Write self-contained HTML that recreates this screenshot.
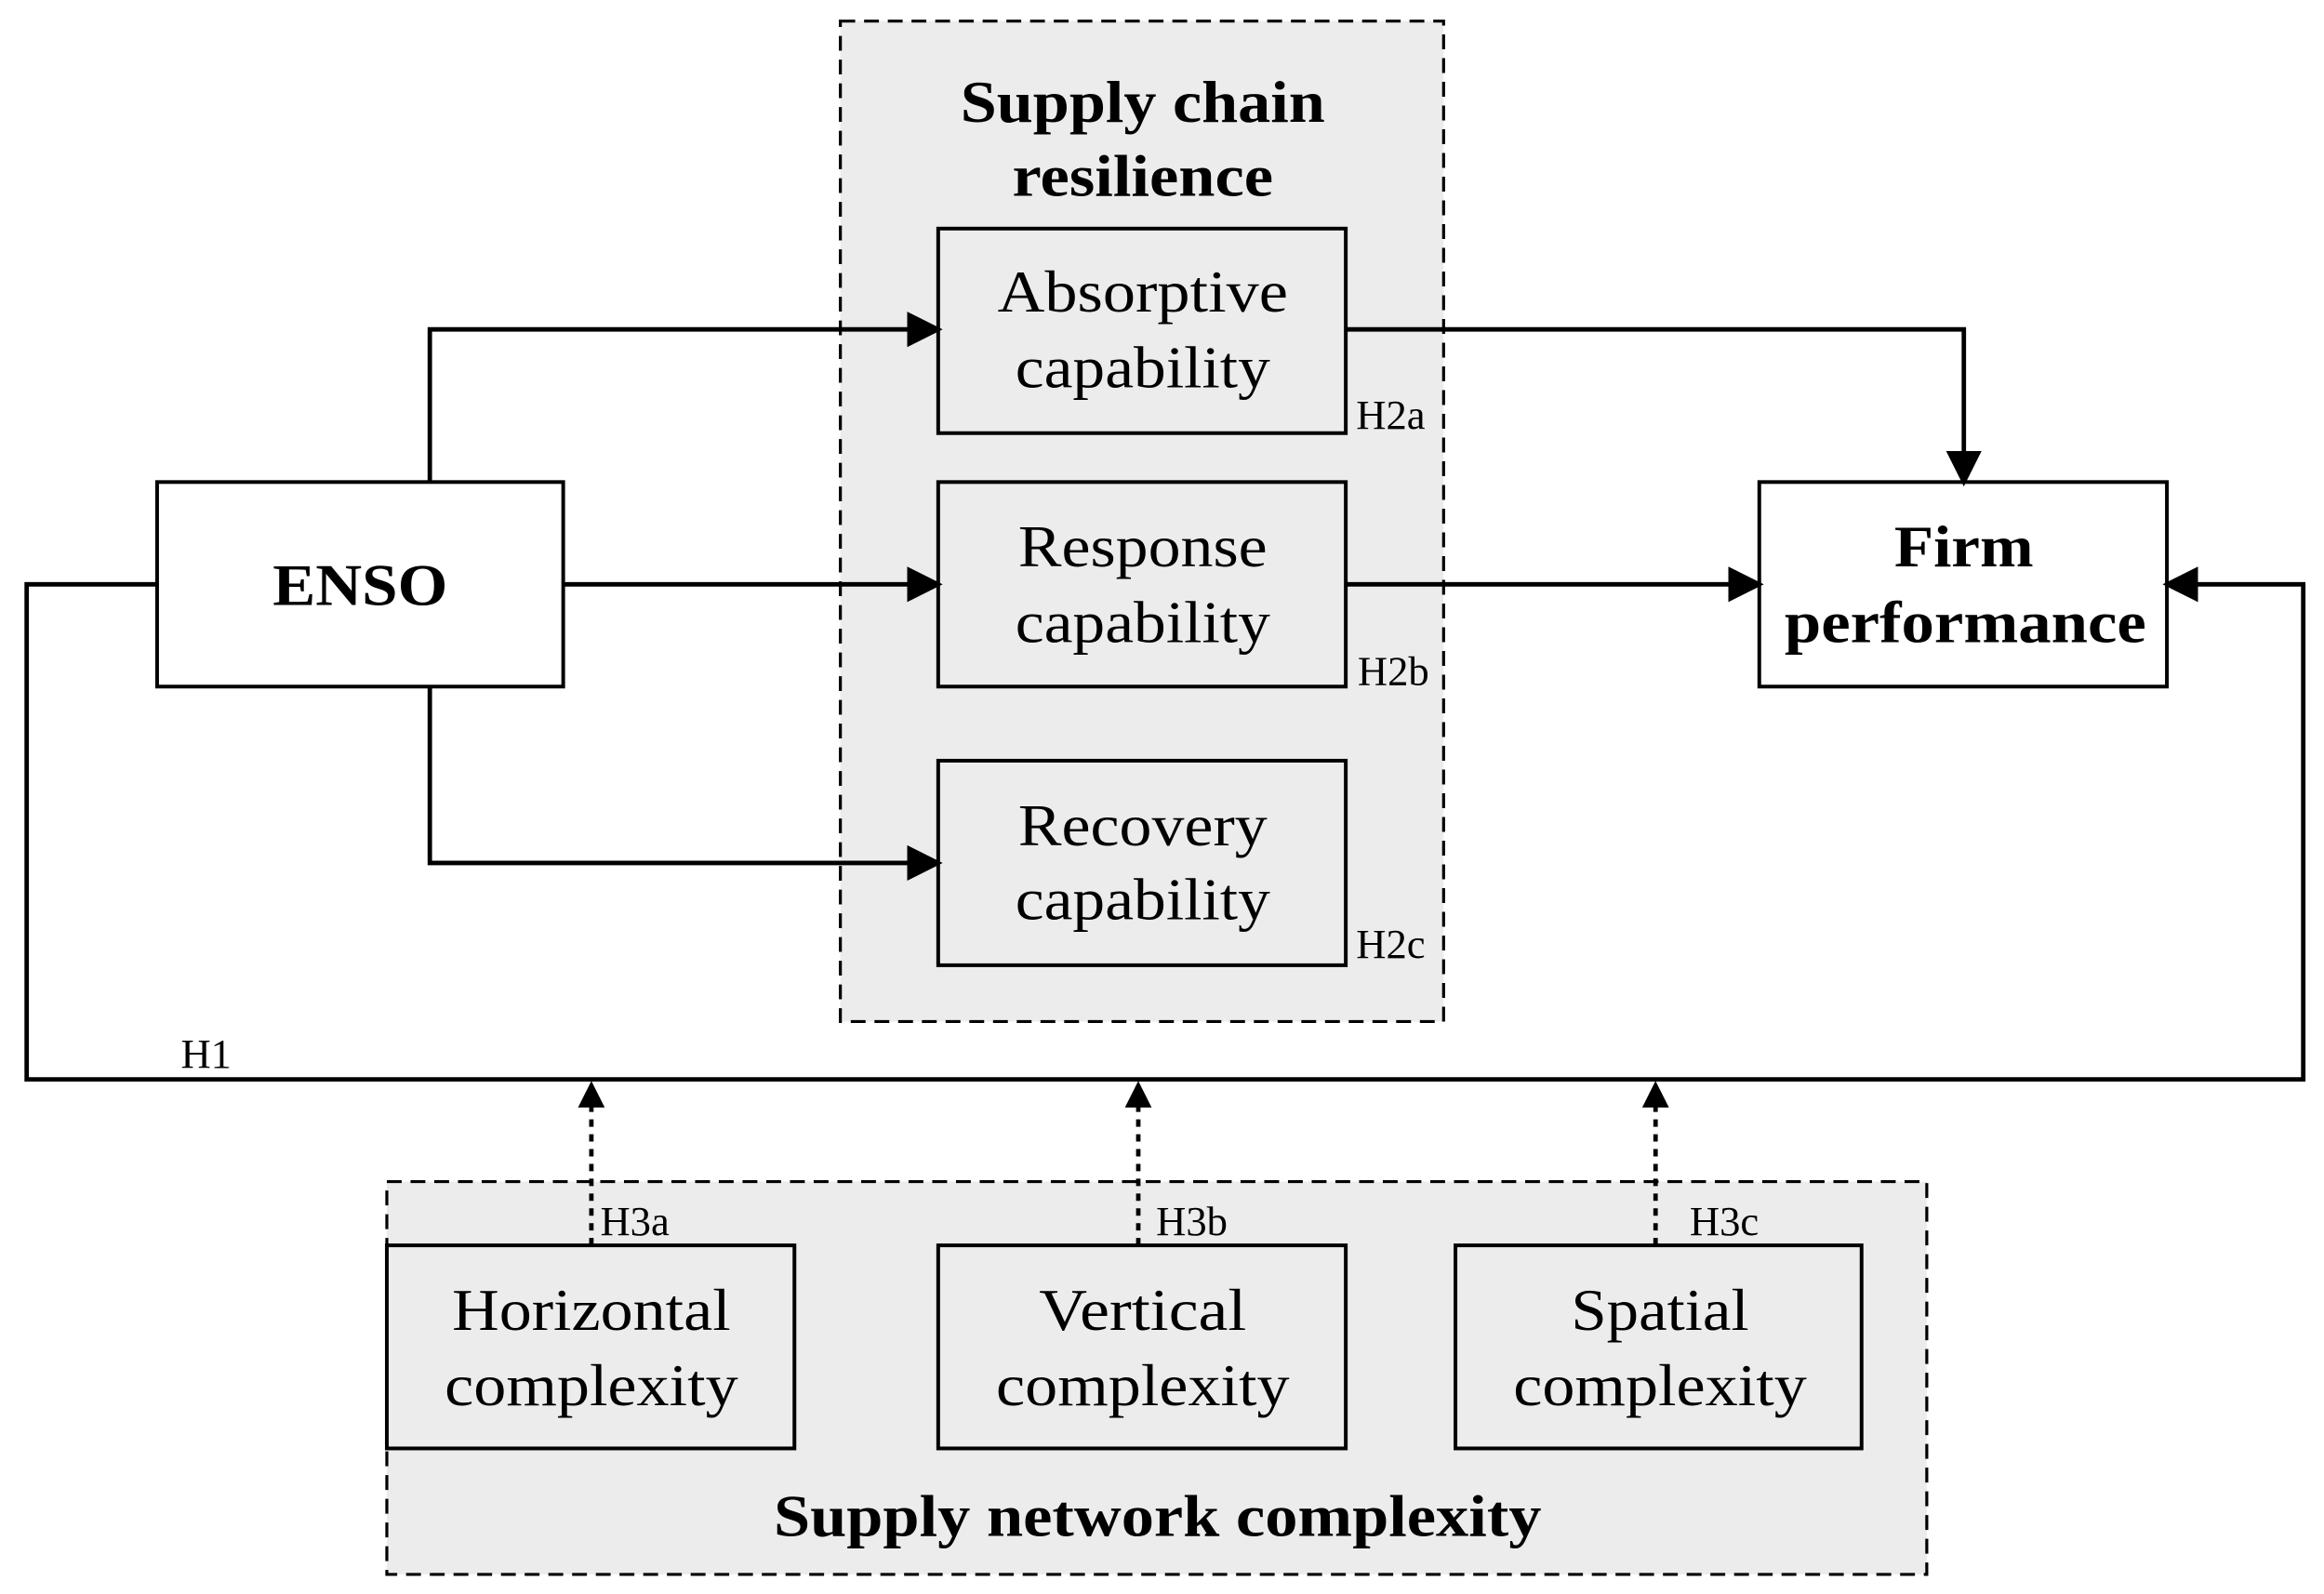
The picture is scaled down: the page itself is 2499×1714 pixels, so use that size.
<!DOCTYPE html>
<html><head><meta charset="utf-8"><style>
html,body{margin:0;padding:0;background:#fff;}
svg{display:block;}
text{font-family:"Liberation Serif",serif;fill:#000;}
</style></head><body>
<svg width="2499" height="1714" viewBox="0 0 1568 1075" xmlns="http://www.w3.org/2000/svg">
<defs>
<marker id="a" markerWidth="8" markerHeight="8" refX="7" refY="4" orient="auto" markerUnits="strokeWidth">
<path d="M0,0 L8,4 L0,8 Z" fill="#000"/></marker>
<marker id="d" markerWidth="6" markerHeight="6" refX="5" refY="3" orient="auto" markerUnits="strokeWidth">
<path d="M0,0 L6,3 L0,6 Z" fill="#000"/></marker>
</defs>
<rect x="567" y="14" width="407" height="675" fill="#ececec" stroke="#000" stroke-width="2" stroke-dasharray="10,6"/>
<text x="771" y="82" font-size="40" font-weight="bold" text-anchor="middle" textLength="246" lengthAdjust="spacingAndGlyphs">Supply chain</text>
<text x="771" y="132" font-size="40" font-weight="bold" text-anchor="middle" textLength="176" lengthAdjust="spacingAndGlyphs">resilience</text>
<rect x="261" y="797" width="1039" height="265" fill="#ececec" stroke="#000" stroke-width="2" stroke-dasharray="10,6"/>
<text x="781" y="1036" font-size="40" font-weight="bold" text-anchor="middle" textLength="518" lengthAdjust="spacingAndGlyphs">Supply network complexity</text>
<g fill="#ececec" stroke="#000" stroke-width="2.5">
<rect x="633" y="154" width="275" height="138"/>
<rect x="633" y="325" width="275" height="138"/>
<rect x="633" y="513" width="275" height="138"/>
<rect x="261" y="840" width="275" height="137"/>
<rect x="633" y="840" width="275" height="137"/>
<rect x="982" y="840" width="274" height="137"/>
</g>
<g fill="#fff" stroke="#000" stroke-width="2.5">
<rect x="106" y="325" width="274" height="138"/>
<rect x="1187" y="325" width="275" height="138"/>
</g>
<g font-size="40" text-anchor="middle" lengthAdjust="spacingAndGlyphs">
<text x="771" y="210" textLength="196" lengthAdjust="spacingAndGlyphs">Absorptive</text><text x="771" y="261" textLength="172" lengthAdjust="spacingAndGlyphs">capability</text>
<text x="771" y="382" textLength="168" lengthAdjust="spacingAndGlyphs">Response</text><text x="771" y="433" textLength="172" lengthAdjust="spacingAndGlyphs">capability</text>
<text x="771" y="570" textLength="168" lengthAdjust="spacingAndGlyphs">Recovery</text><text x="771" y="620" textLength="172" lengthAdjust="spacingAndGlyphs">capability</text>
<text x="399" y="897" textLength="188" lengthAdjust="spacingAndGlyphs">Horizontal</text><text x="399" y="948" textLength="198" lengthAdjust="spacingAndGlyphs">complexity</text>
<text x="771" y="897" textLength="140" lengthAdjust="spacingAndGlyphs">Vertical</text><text x="771" y="948" textLength="198" lengthAdjust="spacingAndGlyphs">complexity</text>
<text x="1120" y="897" textLength="120" lengthAdjust="spacingAndGlyphs">Spatial</text><text x="1120" y="948" textLength="198" lengthAdjust="spacingAndGlyphs">complexity</text>
</g>
<text x="243" y="408" font-size="40" font-weight="bold" text-anchor="middle" textLength="118" lengthAdjust="spacingAndGlyphs">ENSO</text>
<text x="1325" y="382" font-size="40" font-weight="bold" text-anchor="middle" textLength="94" lengthAdjust="spacingAndGlyphs">Firm</text>
<text x="1326" y="433" font-size="40" font-weight="bold" text-anchor="middle" textLength="244" lengthAdjust="spacingAndGlyphs">performance</text>
<g font-size="28">
<text x="915" y="289">H2a</text><text x="916" y="462">H2b</text><text x="915" y="646">H2c</text>
<text x="122" y="720">H1</text>
<text x="405" y="833">H3a</text><text x="780" y="833">H3b</text><text x="1140" y="833">H3c</text>
</g>
<g fill="none" stroke="#000" stroke-width="3">
<path d="M290,325 V222 H633" marker-end="url(#a)"/>
<path d="M380,394 H633" marker-end="url(#a)"/>
<path d="M290,463 V582 H633" marker-end="url(#a)"/>
<path d="M908,222 H1325 V325" marker-end="url(#a)"/>
<path d="M908,394 H1187" marker-end="url(#a)"/>
<path d="M106,394 H18 V728 H1554 V394 H1462" marker-end="url(#a)"/>
</g>
<g fill="none" stroke="#000" stroke-width="3" stroke-dasharray="5,5">
<path d="M399,840 V732" marker-end="url(#d)"/>
<path d="M768,840 V732" marker-end="url(#d)"/>
<path d="M1117,840 V732" marker-end="url(#d)"/>
</g>
</svg>
</body></html>
